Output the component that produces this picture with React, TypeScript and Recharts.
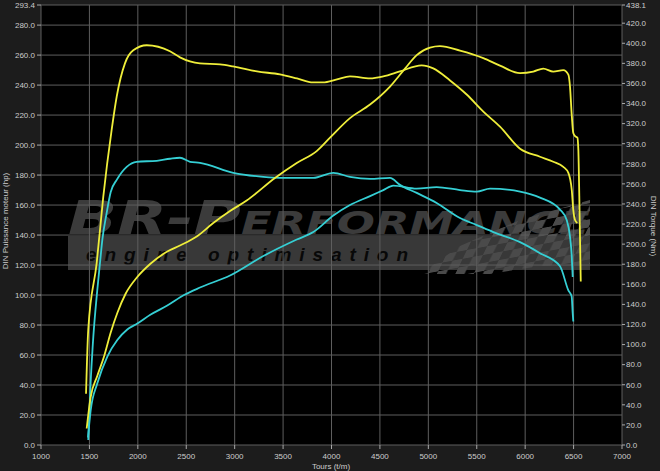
import { CartesianGrid, Line, LineChart, XAxis, YAxis } from "recharts";

// yellow = after tuning, cyan = stock
const rpmTorqueTuned = [1465, 1488, 1575, 1643, 1730, 1782, 1867, 1953, 2092, 2332, 2435, 2642, 2849, 2983, 3231, 3468, 3644, 3809, 3912, 4057, 4191, 4398, 4535, 4707, 4931, 5051, 5224, 5396, 5568, 5740, 5947, 6153, 6291, 6394, 6446, 6481, 6497, 6515, 6539];
const torqueTuned = [51, 115, 181, 247, 314, 347, 380, 393, 398, 392, 386, 380, 379, 377, 372, 369, 365, 361, 361, 364, 367, 365, 367, 372, 378, 375, 363, 349, 332, 317, 295, 287, 282, 277, 271, 254, 234, 224, 221];

const rpmPowerTuned = [1472, 1513, 1581, 1651, 1720, 1788, 1875, 1994, 2133, 2304, 2435, 2608, 2779, 2952, 3124, 3416, 3641, 3847, 3985, 4191, 4398, 4604, 4759, 4880, 5017, 5120, 5327, 5568, 5740, 5947, 6084, 6187, 6290, 6394, 6446, 6463, 6480, 6497, 6515, 6539, 6549, 6559, 6574];
const powerTuned = [11, 32, 46, 59, 75, 88, 101, 112, 121, 129, 133, 139, 148, 156, 163, 178, 188, 196, 205, 218, 227, 239, 251, 260, 265, 266, 263, 258, 253, 248, 249, 251, 249, 250, 247, 239, 221, 208, 206, 205, 197, 166, 109];

const rpmTorqueStock = [1488, 1496, 1506, 1535, 1581, 1609, 1633, 1678, 1720, 1782, 1885, 1988, 2195, 2332, 2435, 2539, 2642, 2986, 3296, 3502, 3812, 4019, 4191, 4398, 4604, 4707, 4880, 5086, 5327, 5500, 5671, 5947, 6153, 6360, 6446, 6480, 6491, 6497];
const torqueStock = [5, 22, 48, 100, 154, 181, 204, 231, 252, 264, 277, 282, 283, 285, 286, 282, 281, 271, 267, 266, 266, 271, 267, 265, 266, 259, 251, 241, 226, 219, 212, 202, 191, 178, 154, 148, 131, 123];

const rpmPowerStock = [1485, 1513, 1581, 1685, 1788, 1891, 1995, 2133, 2304, 2477, 2642, 2952, 3296, 3641, 3812, 4019, 4191, 4398, 4535, 4638, 4880, 5086, 5327, 5500, 5637, 5947, 6153, 6360, 6429, 6463, 6481, 6491];
const powerStock = [5, 23, 41, 59, 70, 77, 81, 87, 93, 100, 105, 113, 126, 137, 142, 153, 160, 166, 170, 173, 171, 172, 170, 169, 171, 169, 165, 157, 150, 139, 126, 112];

const rpmTicks = [1000, 1500, 2000, 2500, 3000, 3500, 4000, 4500, 5000, 5500, 6000, 6500, 7000];
const hpTicks = [0, 20, 40, 60, 80, 100, 120, 140, 160, 180, 200, 220, 240, 260, 280, 293.4];
const nmTicks = [0, 20, 40, 60, 80, 100, 120, 140, 160, 180, 200, 220, 240, 260, 280, 300, 320, 340, 360, 380, 400, 420, 438.1];

const YELLOW = "#efee3a";
const CYAN = "#35cfd4";
const TEXT = "#cccccc";
const FONT = "'Liberation Sans', Arial, sans-serif";

const toPoints = (rpm: number[], vals: number[]) => rpm.map((r, i) => ({ rpm: r, v: vals[i] }));

const tickStyle = { fill: TEXT, fontSize: 8, fontFamily: FONT };

const Watermark = () => (
  <svg width={660} height={471} style={{ position: "absolute", left: 0, top: 0 }}>
    <defs>
      <pattern id="chk" width={18} height={18} patternUnits="userSpaceOnUse" patternTransform="skewX(-35) rotate(-12)">
        <rect width={9} height={9} fill="#4a4a4a" />
        <rect x={9} y={9} width={9} height={9} fill="#4a4a4a" />
      </pattern>
    </defs>
    <rect x={41} y={5} width={581} height={440} fill="#000" />
    <text x={68} y={234} fontSize={46} fontStyle="italic" fontWeight={900} fill="#3b3b3b"
      fontFamily="'DejaVu Sans', sans-serif" textLength={522} lengthAdjust="spacingAndGlyphs"
      style={{ fontVariant: "small-caps" }}>
      BR-Performance
    </text>
    <rect x={68} y={236} width={522} height={34} fill="#383838" />
    <polygon fill="url(#chk)" points="420,274 460,246 520,220 590,200 590,264 540,266 490,274" />
    <text x={86} y={261} fontSize={19} fontStyle="italic" fontWeight="bold" fill="#080808"
      fontFamily={FONT} textLength={322} lengthAdjust="spacing">
      engine optimisation
    </text>
    <text x={0} y={0} transform="translate(8,221) rotate(-90)" textAnchor="middle" fontSize={8} fill={TEXT} fontFamily={FONT}>
      DIN Puissance moteur (hp)
    </text>
    <text x={0} y={0} transform="translate(651,226) rotate(90)" textAnchor="middle" fontSize={8} fill={TEXT} fontFamily={FONT}>
      DIN Torque (Nm)
    </text>
    <text x={331} y={469} textAnchor="middle" fontSize={8} fill={TEXT} fontFamily={FONT}>
      Tours (t/m)
    </text>
  </svg>
);

export default function App() {
  return (
    <div style={{ position: "fixed", left: 0, top: 0, width: 660, height: 471, background: "#1c1c1c" }}>
      <Watermark />
      <div style={{ position: "absolute", left: 0, top: 0 }}>
        <LineChart width={660} height={471} margin={{ top: 5, right: 0, left: 0, bottom: 0 }}>
          <CartesianGrid yAxisId="hp" stroke="#5e5e5e" strokeWidth={1} fill="none" />
          <XAxis
            type="number"
            dataKey="rpm"
            domain={[1000, 7000]}
            ticks={rpmTicks}
            allowDuplicatedCategory={false}
            height={26}
            tick={tickStyle}
            tickSize={4}
            tickMargin={4}
            axisLine={false}
            tickLine={{ stroke: "#aaaaaa" }}
          />
          <YAxis
            yAxisId="hp"
            orientation="left"
            width={41}
            domain={[0, 293.4]}
            ticks={hpTicks}
            tickFormatter={(v: number) => v.toFixed(1)}
            tick={tickStyle}
            tickSize={4}
            tickMargin={2}
            axisLine={false}
            tickLine={{ stroke: "#aaaaaa" }}
            interval={0}
          />
          <YAxis
            yAxisId="nm"
            orientation="right"
            width={38}
            domain={[0, 438.1]}
            ticks={nmTicks}
            tickFormatter={(v: number) => v.toFixed(1)}
            tick={tickStyle}
            tickSize={3}
            tickMargin={1}
            axisLine={false}
            tickLine={{ stroke: "#aaaaaa" }}
            interval={0}
          />
          <Line yAxisId="nm" data={toPoints(rpmTorqueStock, torqueStock)} dataKey="v" type="monotone" stroke={CYAN} strokeWidth={1.8} dot={false} isAnimationActive={false} />
          <Line yAxisId="hp" data={toPoints(rpmPowerStock, powerStock)} dataKey="v" type="monotone" stroke={CYAN} strokeWidth={1.8} dot={false} isAnimationActive={false} />
          <Line yAxisId="nm" data={toPoints(rpmTorqueTuned, torqueTuned)} dataKey="v" type="monotone" stroke={YELLOW} strokeWidth={1.8} dot={false} isAnimationActive={false} />
          <Line yAxisId="hp" data={toPoints(rpmPowerTuned, powerTuned)} dataKey="v" type="monotone" stroke={YELLOW} strokeWidth={1.8} dot={false} isAnimationActive={false} />
        </LineChart>
      </div>
    </div>
  );
}
